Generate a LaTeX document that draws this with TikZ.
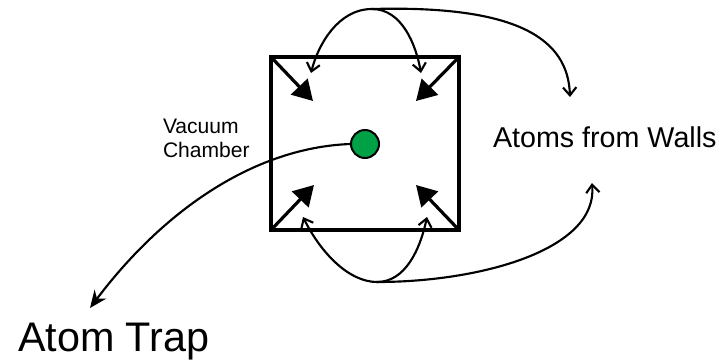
\documentclass[tikz,border=0pt]{standalone}
\usepackage{fontspec}
\setmainfont{Liberation Sans}
\usetikzlibrary{arrows.meta,positioning}
\definecolor{atomgreen}{RGB}{0,160,70}

\begin{document}
\begin{tikzpicture}[
    x=0.75pt, y=-0.75pt,
    >=Stealth,
    chamber/.style={draw, line width=2.4pt, inner sep=0pt, outer sep=0pt, minimum width=141pt, minimum height=129.75pt},
    beam/.style={line width=2.4pt, -{Triangle[length=15pt,width=17pt]}},
    flow/.style={line width=1.6pt, -{Straight Barb[length=6pt,width=10pt]}},
    tag/.style={inner sep=0pt, outer sep=0pt}
  ]
  \useasboundingbox (0,0) rectangle (722,362);

  \node[chamber] (box) at (365,143.5) {};
  \node[circle, draw, fill=atomgreen, line width=1.5pt, minimum size=21pt, inner sep=0pt] (atom) at (365,144) {};

  \node[tag, anchor=north west, align=left, font=\fontsize{15.8}{18}\selectfont] (vac) at (163,119) {Vacuum\\Chamber};
  \node[tag, anchor=base west, font=\fontsize{21.5}{26}\selectfont] (walls) at (493,147) {Atoms from Walls};
  \node[tag, anchor=base west, font=\fontsize{31}{36}\selectfont] (trap) at (18,351) {Atom Trap};

  % corner beams
  \coordinate (nw) at (313,101);
  \coordinate (ne) at (416,101);
  \coordinate (sw) at (314,185);
  \coordinate (se) at (416,185);
  \draw[beam] (box.north west) -- (nw);
  \draw[beam] (box.north east) -- (ne);
  \draw[beam] (box.south west) -- (sw);
  \draw[beam] (box.south east) -- (se);

  % atoms bouncing off the walls
  \coordinate (up) at (372,9);
  \coordinate (down) at (377,282);
  \coordinate (tl) at (311,73);
  \coordinate (tr) at (421,73);
  \coordinate (bl) at (303,217);
  \coordinate (br) at (427,217);
  \coordinate (wtop) at (570,97);
  \coordinate (wbot) at (592,183);
  \draw[flow] (up) .. controls (338,9) and (318,45) .. (tl);
  \draw[flow] (up) .. controls (402,9) and (416,45) .. (tr);
  \draw[flow] (up) .. controls (520,5) and (568,40) .. (wtop);
  \draw[flow] (down) .. controls (350,282) and (322,255) .. (bl);
  \draw[flow] (down) .. controls (405,282) and (420,250) .. (br);
  \draw[flow] (down) .. controls (480,282) and (598,250) .. (wbot);

  \coordinate (tin) at (90,308);
  \draw[line width=1.6pt, -{Stealth[length=13pt,width=11pt]}] (atom.west) .. controls (250,148) and (160,215) .. (tin);
\end{tikzpicture}
\end{document}
